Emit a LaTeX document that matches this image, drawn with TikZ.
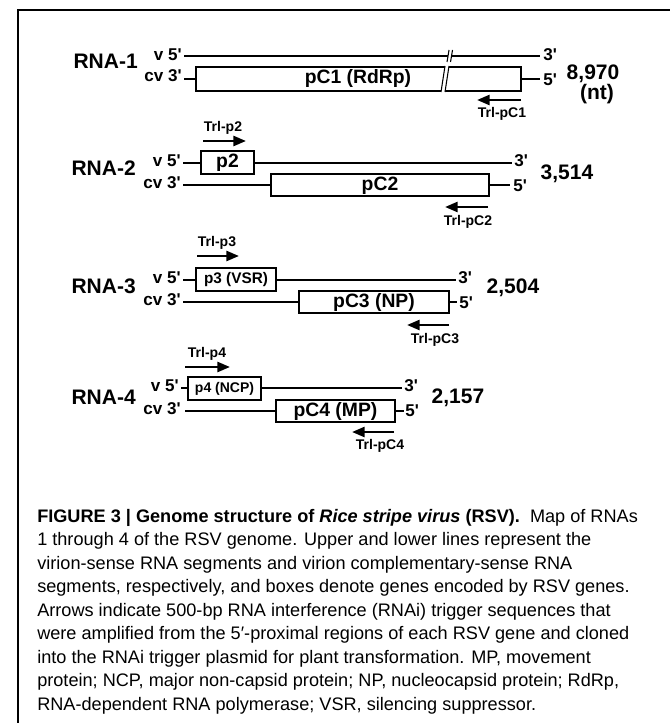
\documentclass[tikz,border=0pt]{standalone}
\usepackage{fontspec}
\setmainfont{Liberation Sans}
\usetikzlibrary{arrows.meta}
\newcommand{\myq}{\textquotesingle}
\begin{document}
\begin{tikzpicture}[x=0.75pt,y=-0.75pt,
  strandline/.style={line width=1.1pt},
  genebox/.style={line width=1.1pt, fill=white},
  rna/.style={font=\fontsize{15.75}{18}\selectfont\bfseries, anchor=east, inner sep=0pt},
  strand/.style={font=\fontsize{12.8}{14}\selectfont\bfseries, inner sep=0pt},
  gene/.style={font=\fontsize{14.5}{16}\selectfont\bfseries, inner sep=0pt},
  genesmall/.style={font=\fontsize{11.5}{13}\selectfont\bfseries, inner sep=0pt},
  ntsize/.style={font=\fontsize{15.75}{18}\selectfont\bfseries, inner sep=0pt},
  trl/.style={font=\fontsize{10.5}{12}\selectfont\bfseries, inner sep=0pt},
  trigger/.style={line width=1.9pt, -{Triangle[length=9.5pt,width=7.5pt]}},
  captext/.style={font=\fontsize{13.6}{16}\selectfont, anchor=base west, inner sep=0pt},
  breakline/.style={line width=0.8pt}]
\useasboundingbox (0,0) rectangle (670,723);
% frame
\coordinate (fbl) at (18,723); \coordinate (ftl) at (18,10); \coordinate (ftr) at (670,10);
\draw[line width=0.8pt] (fbl) -- (ftl) -- (ftr);

% ---------------- RNA-1
\coordinate (v1s) at (184,56); \coordinate (v1e) at (540,56);
\coordinate (c1s) at (184,79); \coordinate (c1e) at (540,79);
\draw[strandline] (v1s) -- (v1e);
\draw[strandline] (c1s) -- (c1e);
\draw[genebox] (196,67) rectangle (521,91);
\node[gene] (pc1) at (358,79) {pC1 (RdRp)};
% break marks
\fill[white] (447,62) -- (449,50) -- (452.5,50) -- (450.5,62) -- cycle;
\draw[breakline] (447,62) -- (449,50);
\draw[breakline] (450.5,62) -- (452.5,50);
\fill[white] (445,66) -- (449,66) -- (445,92) -- (441,92) -- cycle;
\draw[breakline] (445,66) -- (441,92);
\draw[breakline] (449,66) -- (445,92);
\node[rna] (rna1) at (138,61) {RNA-1};
\node[strand, anchor=east] (v1) at (182,55) {v 5\myq};
\node[strand, anchor=east] (cv1) at (182,76) {cv 3\myq};
\node[strand, anchor=west] (t1a) at (543,55) {3\myq};
\node[strand, anchor=west] (t1b) at (543,80) {5\myq};
\node[ntsize] (n1) at (593,73.5) {8,970};
\node[ntsize] (nt) at (597,94) {(nt)};
\coordinate (a1s) at (521,100); \coordinate (a1e) at (477,100);
\draw[trigger] (a1s) -- (a1e);
\node[trl] (l1) at (502,114) {Trl-pC1};

% ---------------- RNA-2
\node[trl] (l2a) at (223,128) {Trl-p2};
\coordinate (a2s) at (203,141); \coordinate (a2e) at (246,141);
\draw[trigger] (a2s) -- (a2e);
\coordinate (v2s) at (183,163); \coordinate (v2e) at (512,163);
\coordinate (c2s) at (183,185); \coordinate (c2e) at (510,185);
\draw[strandline] (v2s) -- (v2e);
\draw[strandline] (c2s) -- (c2e);
\draw[genebox] (201,151) rectangle (254,174);
\node[gene] (p2) at (227.5,163) {p2};
\draw[genebox] (271,174) rectangle (489,196);
\node[gene] (pc2) at (380,186) {pC2};
\node[rna] (rna2) at (136,168) {RNA-2};
\node[strand, anchor=east] (v2) at (181,161) {v 5\myq};
\node[strand, anchor=east] (cv2) at (181,183) {cv 3\myq};
\node[strand, anchor=west] (t2a) at (514,161) {3\myq};
\node[strand, anchor=west] (t2b) at (513,186) {5\myq};
\node[ntsize] (n2) at (567,174) {3,514};
\coordinate (b2s) at (488,207); \coordinate (b2e) at (445,207);
\draw[trigger] (b2s) -- (b2e);
\node[trl] (l2b) at (468,222) {Trl-pC2};

% ---------------- RNA-3
\node[trl] (l3a) at (217,243) {Trl-p3};
\coordinate (a3s) at (197,256); \coordinate (a3e) at (239,256);
\draw[trigger] (a3s) -- (a3e);
\coordinate (v3s) at (183,280); \coordinate (v3e) at (456,280);
\coordinate (c3s) at (183,302); \coordinate (c3e) at (457,302);
\draw[strandline] (v3s) -- (v3e);
\draw[strandline] (c3s) -- (c3e);
\draw[genebox] (196,268) rectangle (276,291);
\node[genesmall] (p3) at (236,280) {p3 (VSR)};
\draw[genebox] (299,291) rectangle (449,313);
\node[gene] (pc3) at (374,303) {pC3 (NP)};
\node[rna] (rna3) at (136,286) {RNA-3};
\node[strand, anchor=east] (v3) at (181,278) {v 5\myq};
\node[strand, anchor=east] (cv3) at (181,300) {cv 3\myq};
\node[strand, anchor=west] (t3a) at (458,278) {3\myq};
\node[strand, anchor=west] (t3b) at (459,303) {5\myq};
\node[ntsize] (n3) at (513,288) {2,504};
\coordinate (b3s) at (449,325); \coordinate (b3e) at (407,325);
\draw[trigger] (b3s) -- (b3e);
\node[trl] (l3b) at (435,340) {Trl-pC3};

% ---------------- RNA-4
\node[trl] (l4a) at (207,354) {Trl-p4};
\coordinate (a4s) at (185,367); \coordinate (a4e) at (230,367);
\draw[trigger] (a4s) -- (a4e);
\coordinate (v4s) at (181,388); \coordinate (v4e) at (402,388);
\coordinate (c4s) at (185,411); \coordinate (c4e) at (404,411);
\draw[strandline] (v4s) -- (v4e);
\draw[strandline] (c4s) -- (c4e);
\draw[genebox] (188,377) rectangle (261,400);
\node[genesmall, font=\fontsize{10.5}{12}\selectfont\bfseries] (p4) at (224.5,388.5) {p4 (NCP)};
\draw[genebox] (276,400) rectangle (395,422);
\node[gene] (pc4) at (335.5,411.5) {pC4 (MP)};
\node[rna] (rna4) at (136,397) {RNA-4};
\node[strand, anchor=east] (v4) at (179,386) {v 5\myq};
\node[strand, anchor=east] (cv4) at (181,409) {cv 3\myq};
\node[strand, anchor=west] (t4a) at (404,386) {3\myq};
\node[strand, anchor=west] (t4b) at (405,411) {5\myq};
\node[ntsize] (n4) at (458,398) {2,157};
\coordinate (b4s) at (394,432); \coordinate (b4e) at (352,432);
\draw[trigger] (b4s) -- (b4e);
\node[trl] (l4b) at (380,446) {Trl-pC4};

% ---------------- caption
\node[captext] (cap1) at (37,522) {\textbf{FIGURE 3 | Genome structure of \textit{Rice stripe virus} (RSV).}\ \ Map of RNAs};
\node[captext] (cap2) at (37,545.5) {1 through 4 of the RSV genome. Upper and lower lines represent the};
\node[captext] (cap3) at (37,569) {virion-sense RNA segments and virion complementary-sense RNA};
\node[captext] (cap4) at (37,592.5) {segments, respectively, and boxes denote genes encoded by RSV genes.};
\node[captext] (cap5) at (37,616) {Arrows indicate 500-bp RNA interference (RNAi) trigger sequences that};
\node[captext] (cap6) at (37,639.5) {were amplified from the 5′-proximal regions of each RSV gene and cloned};
\node[captext] (cap7) at (37,663) {into the RNAi trigger plasmid for plant transformation. MP, movement};
\node[captext] (cap8) at (37,686.5) {protein; NCP, major non-capsid protein; NP, nucleocapsid protein; RdRp,};
\node[captext] (cap9) at (37,710) {RNA-dependent RNA polymerase; VSR, silencing suppressor.};
\end{tikzpicture}
\end{document}
